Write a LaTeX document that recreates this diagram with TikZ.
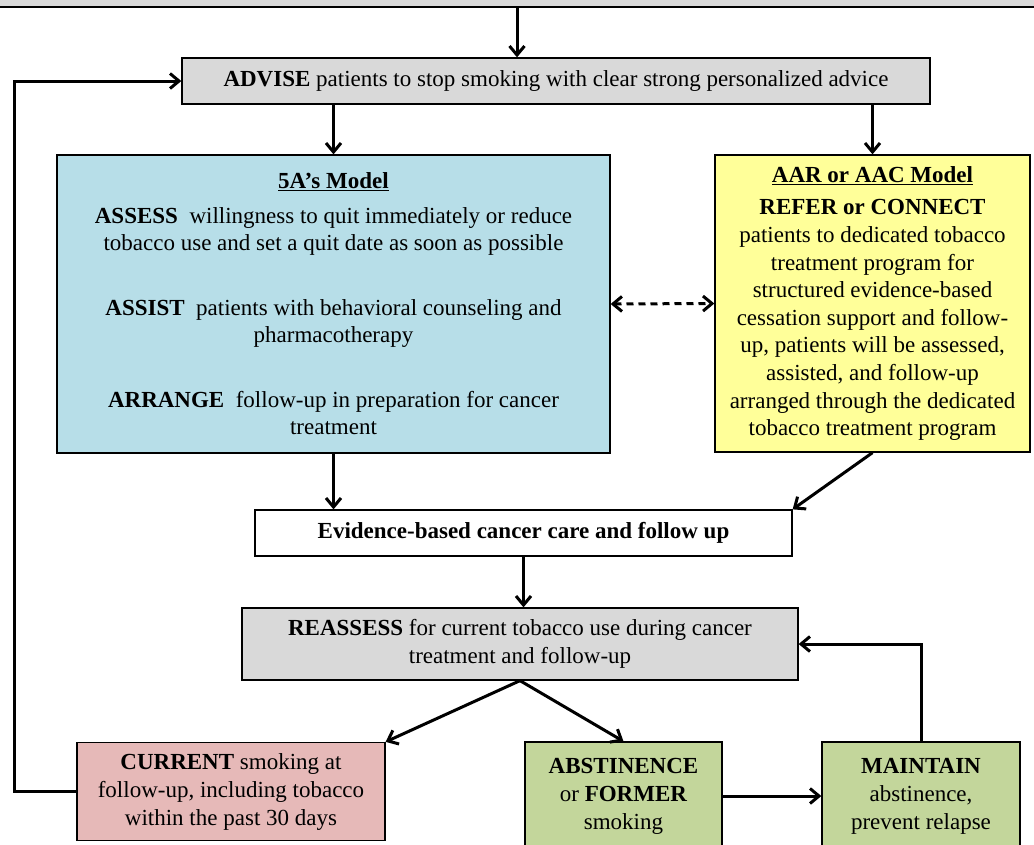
\documentclass[tikz,border=0pt]{standalone}
\usepackage{fontspec}
\setmainfont{Liberation Serif}
\usepackage{tikz}
\usetikzlibrary{arrows.meta,positioning}
\definecolor{boxgrey}{HTML}{D9D9D9}
\definecolor{boxblue}{HTML}{B7DEE8}
\definecolor{boxyellow}{HTML}{FFFF99}
\definecolor{boxpink}{HTML}{E6B9B8}
\definecolor{boxgreen}{HTML}{C3D69B}
\tikzset{
    >={Straight Barb[length=9pt,width=15pt]},
    flowbox/.style={
      rectangle,
      draw=black, line width=1.3pt,
      align=center,
      inner sep=2pt,
      font=\fontsize{23}{28}\selectfont},
    line/.style={draw, line width=3pt, ->},
    dashline/.style={line, <->, dash pattern=on 7pt off 5pt},
}

\begin{document}
\begin{tikzpicture}[x=1pt, y=-1pt]
  \useasboundingbox (0,0) rectangle (1034,844);
  \clip (0,0) rectangle (1034,844);
  \node[flowbox, fill=boxgrey, minimum width=1070pt, minimum height=50pt] (screen) at (517,-18) {};
  \node[flowbox, fill=boxgrey, minimum width=748pt, minimum height=46pt] (advise) at (556,81)
    {\textbf{ADVISE} patients to stop smoking with clear strong personalized advice};
  \node[flowbox, fill=boxblue, minimum width=553pt, minimum height=298pt,
        font=\fontsize{23}{27}\selectfont] (fiveA) at (333.5,304)
    {\underline{\textbf{5A’s Model}}\\[8pt]
     \textbf{ASSESS}\ \ willingness to quit immediately or reduce\\
     tobacco use and set a quit date as soon as possible\\[38pt]
     \textbf{ASSIST}\ \ patients with behavioral counseling and\\
     pharmacotherapy\\[38pt]
     \textbf{ARRANGE}\ \ follow-up in preparation for cancer\\
     treatment};
  \node[flowbox, fill=boxyellow, minimum width=315pt, minimum height=297pt,
        font=\fontsize{23}{27.6}\selectfont] (aarModel) at (872.5,303.5)
    {\underline{\textbf{AAR or AAC Model}}\\[5pt]
     \textbf{REFER or CONNECT}\\
     patients to dedicated tobacco\\
     treatment program for\\
     structured evidence-based\\
     cessation support and follow-\\
     up, patients will be assessed,\\
     assisted, and follow-up\\
     arranged through the dedicated\\
     tobacco treatment program};
  \node[flowbox, fill=white, minimum width=537pt, minimum height=46pt] (evidence) at (523.5,533)
    {\textbf{Evidence-based cancer care and follow up}};
  \node[flowbox, fill=boxgrey, minimum width=556pt, minimum height=72pt] (reassess) at (520,644)
    {\textbf{REASSESS} for current tobacco use during cancer\\ treatment and follow-up};
  \node[flowbox, fill=boxpink, minimum width=308pt, minimum height=98pt] (current) at (231,791.5)
    {\textbf{CURRENT} smoking at\\ follow-up, including tobacco\\ within the past 30 days};
  \node[flowbox, fill=boxgreen, minimum width=197pt, minimum height=108pt] (abstinence) at (623.5,796)
    {\textbf{ABSTINENCE}\\ or \textbf{FORMER}\\ smoking};
  \node[flowbox, fill=boxgreen, minimum width=198pt, minimum height=108pt] (maintain) at (921,796)
    {\textbf{MAINTAIN}\\ abstinence,\\ prevent relapse};

  \draw[line] (screen.south) -- (screen.south |- advise.north);
  \draw[line] (advise.south -| fiveA.north) -- (fiveA.north);
  \draw[line] (advise.south -| aarModel.north) -- (aarModel.north);
  \draw[dashline] (fiveA.east) -- (aarModel.west);
  \draw[line] (fiveA.south) -- (fiveA.south |- evidence.north);
  \draw[line] (aarModel.south) -- (evidence.north east);
  \draw[line] (evidence.south) -- (evidence.south |- reassess.north);
  \draw[line] (reassess.south) -- (current.north east);
  \draw[line] (reassess.south) -- (abstinence.north);
  \draw[line] (abstinence.east) -- (maintain.west);
  \draw[line] (maintain.north) |- (reassess.east);
  \draw[line] (current.west) -- ++(-62,0) |- (advise.west);
\end{tikzpicture}
\end{document}
